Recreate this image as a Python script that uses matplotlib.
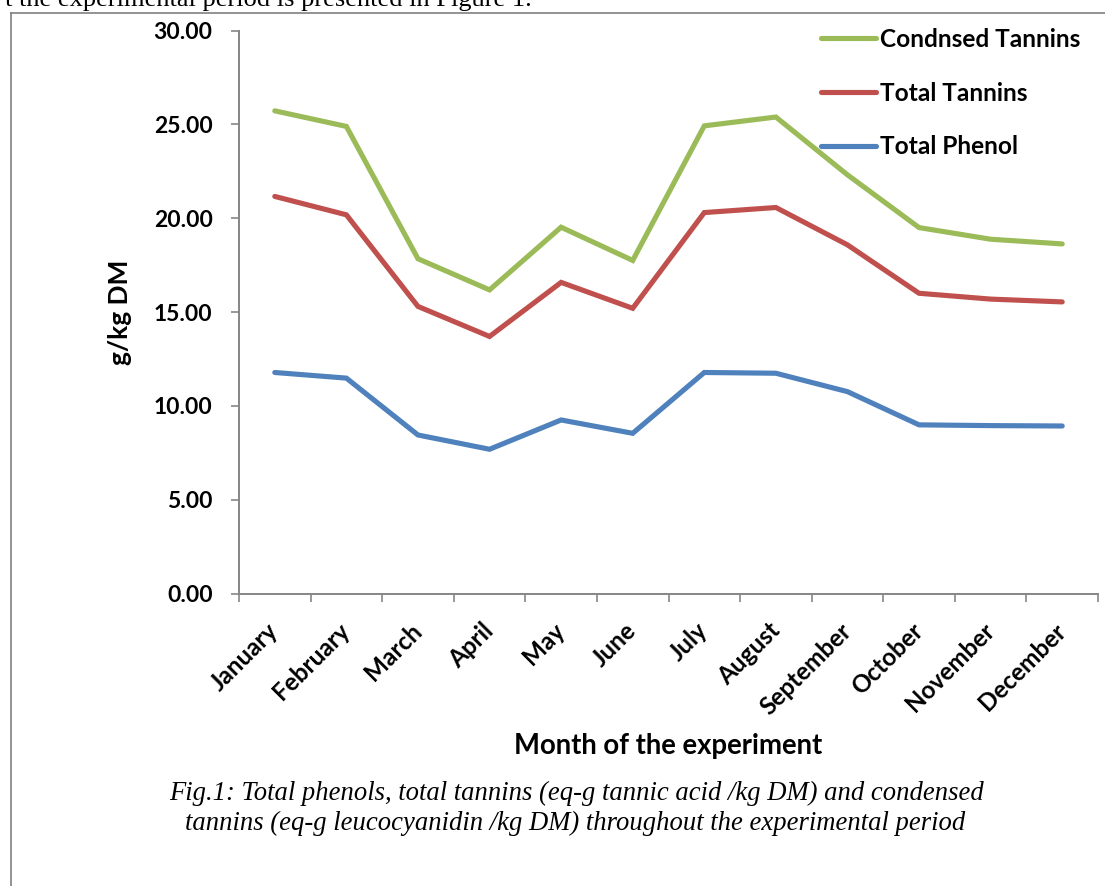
import numpy as np
import matplotlib.pyplot as plt
from matplotlib.lines import Line2D

# values (g/kg DM)
months = ["January", "February", "March", "April", "May", "June", "July",
          "August", "September", "October", "November", "December"]
total_phenol = [11.78, 11.48, 8.45, 7.69, 9.25, 8.54, 11.78, 11.74, 10.76, 8.99, 8.95, 8.93]
total_tannins = [21.16, 20.18, 15.30, 13.70, 16.58, 15.20, 20.30, 20.57, 18.58, 16.00, 15.69, 15.54]
condensed_tannins = [25.72, 24.89, 17.84, 16.18, 19.52, 17.75, 24.92, 25.39, 22.31, 19.50, 18.88, 18.63]
y_ticks = [0, 5, 10, 15, 20, 25, 30]

GREEN = "#9BBB59"
RED = "#C0504D"
BLUE = "#4F81BD"
AXIS = "#868686"
SANS = ["Lato", "DejaVu Sans"]
SERIF = ["Liberation Serif", "DejaVu Serif"]

W, H = 1105, 886
fig = plt.figure(figsize=(W / 100, H / 100), dpi=100)
fig.patch.set_facecolor("white")

ax = fig.add_axes([239 / W, 1 - 593.6 / H, (1098 - 239) / W, (593.6 - 30.5) / H])

x = np.arange(len(months))
l_ph, = ax.plot(x, total_phenol, color=BLUE, lw=3.7, solid_capstyle="round", solid_joinstyle="miter")
l_tt, = ax.plot(x, total_tannins, color=RED, lw=3.7, solid_capstyle="round", solid_joinstyle="miter")
l_ct, = ax.plot(x, condensed_tannins, color=GREEN, lw=3.7, solid_capstyle="round", solid_joinstyle="miter")

ax.set_xlim(-0.5, len(months) - 0.5)
ax.set_ylim(0, 30)

for side in ("top", "right"):
    ax.spines[side].set_visible(False)
for side in ("left", "bottom"):
    ax.spines[side].set_color(AXIS)
    ax.spines[side].set_linewidth(1.4)

ax.set_yticks(y_ticks)
ax.set_yticklabels([f"{v:.2f}" for v in y_ticks], fontfamily=SANS, fontweight="bold", fontsize=16.5)
ax.tick_params(axis="y", direction="out", length=6, width=1.2, color=AXIS, pad=13)

# tick marks on category boundaries, labels on centres
ax.set_xticks(np.arange(-0.5, len(months), 1))
ax.set_xticklabels([])
ax.tick_params(axis="x", which="major", direction="out", length=6, width=1.2, color=AXIS)
ax.set_xticks(x, minor=True)
ax.set_xticklabels(months, minor=True, rotation=45, ha="right", va="center",
                   rotation_mode="anchor", fontfamily=SANS, fontweight="bold", fontsize=17.5)
ax.tick_params(axis="x", which="minor", length=0, pad=24)

ax.set_ylabel("g/kg DM", fontfamily=SANS, fontweight="bold", fontsize=19, labelpad=0)
ax.yaxis.set_label_coords(-(239 - 132) / (1098 - 239), 0.5)

fig.text(668 / W, 1 - 746 / H, "Month of the experiment", ha="center", va="center",
         fontfamily=SANS, fontweight="bold", fontsize=19.8)

fig.legend([l_ct, l_tt, l_ph], ["Condnsed Tannins", "Total Tannins", "Total Phenol"],
           loc="upper left", bbox_to_anchor=(821 / W, 1 - 28 / H), frameon=False,
           prop={"family": SANS, "weight": "bold", "size": 17.6},
           handlelength=2.25, handletextpad=0.18, labelspacing=1.25,
           borderpad=0, borderaxespad=0)

# caption and surrounding document text
fig.text(577 / W, 1 - 800 / H, "Fig.1: Total phenols, total tannins (eq-g tannic acid /kg DM) and condensed",
         ha="center", va="baseline", fontfamily=SERIF, style="italic", fontsize=19.2)
fig.text(575 / W, 1 - 830 / H, "tannins (eq-g leucocyanidin /kg DM) throughout the experimental period",
         ha="center", va="baseline", fontfamily=SERIF, style="italic", fontsize=19.2)
fig.text(532 / W, 1 - 6 / H, "t the experimental period is presented in Figure 1.",
         ha="right", va="baseline", fontfamily=SERIF, fontsize=19)

# frame of the figure box in the document
fig.add_artist(Line2D([11 / W, 11 / W], [0, 1 - 12.5 / H], transform=fig.transFigure,
                      color="#808080", lw=1.2))
fig.add_artist(Line2D([11 / W, 1], [1 - 12.5 / H, 1 - 12.5 / H], transform=fig.transFigure,
                      color="#808080", lw=1.2))

fig.savefig("out.png", dpi=100, facecolor="white")
